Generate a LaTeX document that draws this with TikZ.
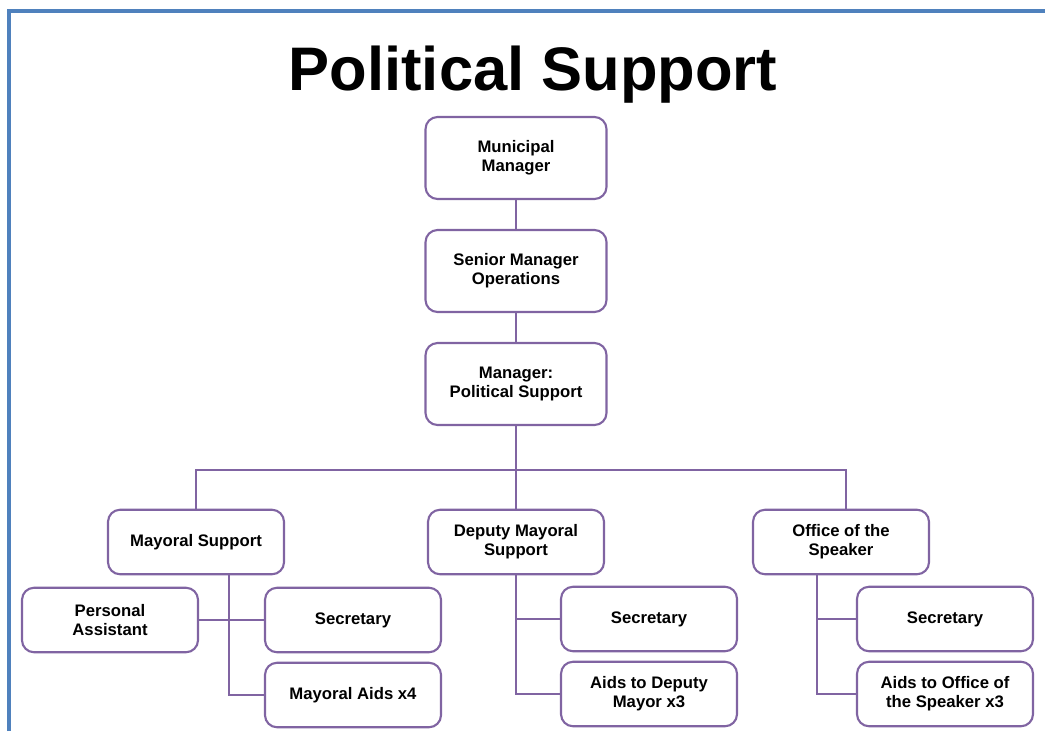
\documentclass[tikz,border=0pt]{standalone}
\usepackage{fontspec}
\setmainfont{Liberation Sans}
\usetikzlibrary{positioning, calc}
\definecolor{frameblue}{RGB}{79,129,189}
\definecolor{boxpurple}{RGB}{128,100,162}
\tikzset{
    post/.style = {draw=boxpurple, line width=1.2pt, rounded corners=0.24cm, fill=white,
                   align=center, inner sep=0pt, font=\fontsize{9.5}{11}\selectfont\bfseries},
    big/.style = {post, minimum width=3.62cm, minimum height=1.64cm}, % top three boxes
    small/.style = {post, minimum width=3.52cm, minimum height=1.29cm},
    link/.style = {draw=boxpurple, line width=1.1pt}
}
\begin{document}
\begin{tikzpicture}[x=0.02cm, y=-0.02cm]
  \useasboundingbox (0,0) rectangle (1045,731);
  \draw[frameblue, line width=0.08cm] (9,731) -- (9,11) -- (1045,11);
  \node (title) [anchor=base, font=\fontsize{35}{40}\selectfont\bfseries] at (533,90) {Political Support};

  \node [big] (mm)  at (516,158) {Municipal\\Manager};
  \node [big] (smo) at (516,271) {Senior Manager\\Operations};
  \node [big] (mps) at (516,384) {Manager:\\Political Support};

  \node [small] (ms)  at (196,542) {Mayoral Support};
  \node [small] (dms) at (516,542) {Deputy Mayoral\\Support};
  \node [small] (os)  at (841,542) {Office of the\\Speaker};

  \node [small] (pa)    at (110,620) {Personal\\Assistant};
  \node [small] (sec1)  at (353,620) {Secretary};
  \node [small] (aids1) at (353,695) {Mayoral Aids x4};
  \node [small] (sec2)  at (649,619) {Secretary};
  \node [small] (aids2) at (649,694) {Aids to Deputy\\Mayor x3};
  \node [small] (sec3)  at (945,619) {Secretary};
  \node [small] (aids3) at (945,694) {Aids to Office of\\the Speaker x3};

  % connectors
  \coordinate (bar) at (516,470);
  \draw[link] (mm) -- (smo);
  \draw[link] (smo) -- (mps);
  \draw[link] (mps) -- (bar);
  \draw[link] (ms.north) |- (bar) -| ([xshift=0.1cm]os.north);
  \draw[link] (bar) -- (dms);

  \coordinate (mtop) at ([xshift=0.66cm]ms.south);
  \draw[link] (mtop) |- (aids1.west);
  \draw[link] (pa.east) -- (sec1.west);
  \draw[link] (dms.south) |- (aids2.west);
  \draw[link] (dms.south |- sec2.west) -- (sec2.west);
  \coordinate (otop) at ([xshift=-0.48cm]os.south);
  \draw[link] (otop) |- (aids3.west);
  \draw[link] (otop |- sec3.west) -- (sec3.west);
\end{tikzpicture}
\end{document}
